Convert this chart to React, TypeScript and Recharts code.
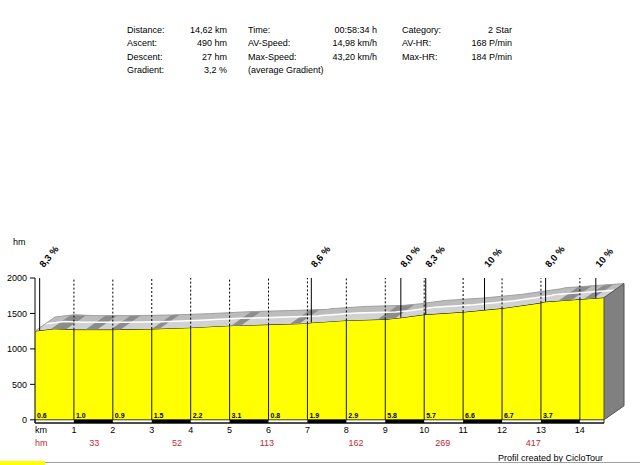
import React from 'react';
import { ComposedChart, Area, Line, Scatter, XAxis, YAxis, ReferenceLine, ReferenceArea } from 'recharts';

const FONT = '"Liberation Sans", Arial, sans-serif';

// elevation profile (km / m)
const profileKm = [0, 0.5, 1, 2, 3, 4, 5, 6, 7, 7.1, 8, 9, 9.4, 10, 11, 12, 13, 13.1, 14, 14.62];
const profileElev = [1252, 1285, 1272, 1272, 1281, 1300, 1328, 1343, 1360, 1370, 1402, 1417, 1440, 1484, 1520, 1572, 1650, 1664, 1700, 1724];

const kmTicks = [1, 2, 3, 4, 5, 6, 7, 8, 9, 10, 11, 12, 13, 14];
const segmentGrades = ['0.6', '1.0', '0.9', '1.5', '2.2', '3.1', '0.8', '1.9', '2.9', '5.8', '5.7', '6.6', '6.7', '3.7'];

// steepest spots
const maxGradeKm = [0.12, 7.1, 9.4, 10.04, 11.55, 13.12, 14.41];
const maxGradeElev = [1258, 1370, 1440, 1486, 1548, 1665, 1716];
const maxGradeLabels = ['8,3 %', '8,6 %', '8,0 %', '8,3 %', '10 %', '8,0 %', '10 %'];

// cumulated climbing row
const ascentKm = [1.52, 3.65, 5.96, 8.25, 10.48, 12.8];
const ascentHm = [33, 52, 113, 162, 269, 417];

// darker road patches on the 3d band
const roughFrom = [0.4, 1.3, 1.95, 3.0, 5.05, 6.55, 8.8, 13.45, 14.1];
const roughTo = [0.8, 1.6, 2.2, 3.2, 5.3, 6.8, 9.25, 13.8, 14.35];

const statCol1 = ['Distance:', 'Ascent:', 'Descent:', 'Gradient:'];
const statVal1 = ['14,62 km', '490 hm', '27 hm', '3,2 %'];
const statCol2 = ['Time:', 'AV-Speed:', 'Max-Speed:', '(average Gradient)'];
const statVal2 = ['00:58:34 h', '14,98 km/h', '43,20 km/h', ''];
const statCol3 = ['Category:', 'AV-HR:', 'Max-HR:'];
const statVal3 = ['2 Star', '168 P/min', '184 P/min'];

const DX = 20;
const DY = -14;

type Pt = { x: number; y: number; value: number; km: number };
const collected: Pt[] = [];

function frontAt(pts: Pt[], km: number) {
  for (let i = 1; i < pts.length; i++) {
    if (km <= pts[i].km) {
      const a = pts[i - 1];
      const b = pts[i];
      const t = (km - a.km) / (b.km - a.km);
      return { x: a.x + (b.x - a.x) * t, y: a.y + (b.y - a.y) * t };
    }
  }
  return pts[pts.length - 1];
}

function ReliefDot(props: any) {
  const { index, cx, cy, value, payload } = props;
  if (index === 0) collected.length = 0;
  collected[index] = { x: cx, y: cy, value, km: payload.km };
  if (index !== profileKm.length - 1) return <g key={`r${index}`} />;

  const pts = collected.slice();
  const first = pts[0];
  const last = pts[pts.length - 1];
  const pxPerHm = (last.y - first.y) / (last.value - first.value);
  const baseY = first.y - pxPerHm * first.value;
  const sh = (p: { x: number; y: number }, f: number) => `${p.x + DX * f},${p.y + DY * f}`;
  const band = (f0: number, f1: number) =>
    [...pts.map((p) => sh(p, f0)), ...pts.slice().reverse().map((p) => sh(p, f1))].join(' ');

  return (
    <g key="relief">
      <polygon points={band(0, 0.5)} fill="#d2d2d2" />
      <polygon points={band(0.5, 1)} fill="#bcbcbc" />
      {roughFrom.map((from, i) => {
        const a = frontAt(pts, from);
        const b = frontAt(pts, roughTo[i]);
        return <polygon key={i} points={[sh(a, 0), sh(b, 0), sh(b, 1), sh(a, 1)].join(' ')} fill="#8c8c8c" />;
      })}
      <polyline points={pts.map((p) => sh(p, 0.52)).join(' ')} fill="none" stroke="#fff" strokeWidth={1.5} />
      <polyline points={pts.map((p) => sh(p, 1)).join(' ')} fill="none" stroke="#a0a0a0" strokeWidth={1} />
      <line x1={first.x} y1={first.y} x2={first.x + DX} y2={first.y + DY} stroke="#a0a0a0" />
      <polygon
        points={[sh(last, 0), sh(last, 1), sh({ x: last.x, y: baseY }, 1), sh({ x: last.x, y: baseY }, 0)].join(' ')}
        fill="#808080"
        stroke="#505050"
        strokeWidth={1}
      />
    </g>
  );
}

function KmTick(p: any) {
  const v = p.payload.value;
  return (
    <text x={p.x} y={p.y} dy="0.71em" fontSize={9} fontFamily={FONT} fill="#000" textAnchor={v === 0 ? 'start' : 'middle'}>
      {v === 0 ? 'km' : v}
    </text>
  );
}

function HmTick(p: any) {
  const v = p.payload.value;
  const i = ascentKm.indexOf(v);
  return (
    <text x={p.x} y={p.y} dy="0.71em" fontSize={9} fontFamily={FONT} fill="#c0283c" textAnchor={v === 0 ? 'start' : 'middle'}>
      {v === 0 ? 'hm' : ascentHm[i]}
    </text>
  );
}

function SegLabel(p: any) {
  return (
    <text x={p.cx + 2} y={p.cy - 2} fontSize={7} fontWeight="bold" fontFamily={FONT} fill="#000">
      {p.payload.label}
    </text>
  );
}

function GradeLabel(p: any) {
  const x = p.cx + 4;
  const y = p.cy - 10;
  return (
    <text x={x} y={y} transform={`rotate(-50 ${x} ${y})`} fontSize={9.5} fontWeight="bold" fontFamily={FONT} fill="#000">
      {p.payload.label}
    </text>
  );
}

function StatRows({ labels, values, lx, vx }: { labels: string[]; values: string[]; lx: number; vx: number }) {
  return (
    <g>
      {labels.map((l, i) => (
        <text key={`l${i}`} x={lx} y={32.5 + i * 13.5}>{l}</text>
      ))}
      {values.map((v, i) => (
        <text key={`v${i}`} x={vx} y={32.5 + i * 13.5} textAnchor="end">{v}</text>
      ))}
    </g>
  );
}

export default function App() {
  const data = profileKm.map((km, i) => ({ km, elev: profileElev[i] }));
  const kmMarks = kmTicks.map((k) => ({ km: k, elev: profileElev[profileKm.indexOf(k)] }));
  const segData = segmentGrades.map((label, i) => ({ km: i, elev: 0, label }));
  const gradeData = maxGradeKm.map((km, i) => ({ km, elev: 2000, label: maxGradeLabels[i] }));

  return (
    <div style={{ position: 'absolute', left: 0, top: 0, width: 640, height: 465, background: '#fff', overflow: 'hidden' }}>
      <ComposedChart width={640} height={465} data={data} margin={{ top: 278, right: 36, bottom: 13, left: 0 }}>
        <XAxis
          dataKey="km"
          type="number"
          domain={[0, 14.62]}
          ticks={[0, ...kmTicks]}
          interval={0}
          tick={KmTick}
          tickLine={false}
          tickSize={0}
          tickMargin={4}
          height={13}
          axisLine={{ stroke: '#000' }}
        />
        <XAxis
          xAxisId="hm"
          dataKey="km"
          type="number"
          domain={[0, 14.62]}
          ticks={[0, ...ascentKm]}
          interval={0}
          tick={HmTick}
          tickLine={false}
          tickSize={0}
          tickMargin={4}
          height={16}
          axisLine={false}
        />
        <YAxis
          type="number"
          domain={[-45, 2000]}
          ticks={[0, 500, 1000, 1500, 2000]}
          interval={0}
          width={35}
          tick={{ fontSize: 9, fill: '#000', fontFamily: FONT }}
          tickSize={5}
          tickMargin={3}
          axisLine={{ stroke: '#000' }}
          tickLine={{ stroke: '#000' }}
        />

        <ReferenceArea x1={0} x2={14.62} y1={-45} y2={0} fill="#fff" fillOpacity={1} stroke="#000" strokeWidth={0.8} />
        {kmTicks
          .filter((k) => k % 2 === 1 && k < 14)
          .map((k) => (
            <ReferenceArea key={`sb${k}`} x1={k} x2={k + 1} y1={-45} y2={0} fill="#000" fillOpacity={1} stroke="none" />
          ))}

        <Line dataKey="elev" stroke="none" dot={ReliefDot} activeDot={false} isAnimationActive={false} legendType="none" zIndex={90} />
        <Area
          dataKey="elev"
          type="linear"
          baseValue={0}
          fill="#ffff00"
          fillOpacity={1}
          stroke="#000"
          strokeWidth={1}
          isAnimationActive={false}
          activeDot={false}
          zIndex={95}
        />

        {kmMarks.map((m) => (
          <ReferenceLine
            key={`ks${m.km}`}
            segment={[{ x: m.km, y: 0 }, { x: m.km, y: m.elev }]}
            stroke="#1a1a1a"
            strokeWidth={1}
            zIndex={900}
          />
        ))}
        {kmMarks.map((m) => (
          <ReferenceLine
            key={`kd${m.km}`}
            segment={[{ x: m.km, y: m.elev }, { x: m.km, y: 2000 }]}
            stroke="#000"
            strokeDasharray="2 2"
            strokeWidth={1}
            zIndex={900}
          />
        ))}
        {maxGradeKm.map((km, i) => (
          <ReferenceLine
            key={`mg${i}`}
            segment={[{ x: km, y: maxGradeElev[i] }, { x: km, y: 2000 }]}
            stroke="#000"
            strokeWidth={1}
            zIndex={900}
          />
        ))}

        <Scatter data={segData} dataKey="elev" shape={SegLabel} isAnimationActive={false} legendType="none" zIndex={950} />
        <Scatter data={gradeData} dataKey="elev" shape={GradeLabel} isAnimationActive={false} legendType="none" zIndex={950} />
      </ComposedChart>

      <svg width={640} height={465} style={{ position: 'absolute', left: 0, top: 0, pointerEvents: 'none' }}>
        <g fontSize={9} fontFamily={FONT} fill="#000">
          <StatRows labels={statCol1} values={statVal1} lx={127} vx={227} />
          <StatRows labels={statCol2} values={statVal2} lx={248} vx={377} />
          <StatRows labels={statCol3} values={statVal3} lx={402} vx={512} />
          <text x={13} y={245}>hm</text>
          <text x={603} y={460.5} textAnchor="end">Profil created by CicloTour</text>
        </g>
        <rect x={0} y={462} width={640} height={1} fill="#a0a0a0" />
        <rect x={0} y={461} width={45} height={4} fill="#ffff00" />
      </svg>
    </div>
  );
}
